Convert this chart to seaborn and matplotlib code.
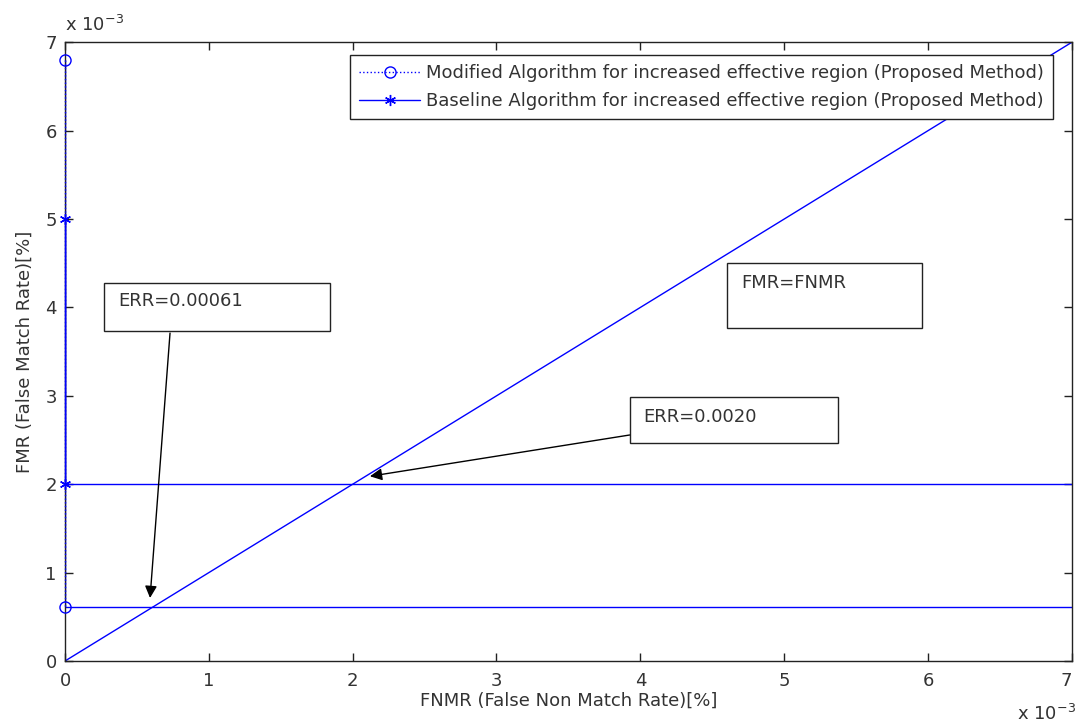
import matplotlib
matplotlib.use("Agg")
import matplotlib.pyplot as plt
import seaborn as sns
import pandas as pd
from matplotlib.ticker import FuncFormatter, MultipleLocator
from matplotlib.patches import Rectangle

# Data (actual units, axes shown in x10^-3)
mod_x = [0.0, 0.0, 0.007]
mod_y = [0.0068, 0.00061, 0.00061]
base_x = [0.0, 0.0, 0.007]
base_y = [0.005, 0.002, 0.002]
diag_x = [0.0, 0.007]
diag_y = [0.0, 0.007]
mod_label = 'Modified Algorithm for increased effective region (Proposed Method)'
base_label = 'Baseline Algorithm for increased effective region (Proposed Method)'

sns.set_theme(style="ticks")
plt.rcParams['font.family'] = ['DejaVu Sans']
txt = '#333333'
blue = '#0000ff'
fs = 13

fig = plt.figure(figsize=(10.75, 7.27), dpi=100)
ax = fig.add_axes([0.0605, 0.0908, 0.9365, 0.851])

df_mod = pd.DataFrame({"x": mod_x, "y": mod_y})
df_base = pd.DataFrame({"x": base_x, "y": base_y})
df_diag = pd.DataFrame({"x": diag_x, "y": diag_y})

sns.lineplot(data=df_diag, x="x", y="y", ax=ax, color=blue, lw=1.0,
             sort=False, estimator=None)
sns.lineplot(data=df_mod, x="x", y="y", ax=ax, color=blue, lw=1.0,
             sort=False, estimator=None)
sns.lineplot(data=df_base, x="x", y="y", ax=ax, color=blue, lw=1.0,
             sort=False, estimator=None)

# markers at the points on the y-axis
ax.plot(mod_x[:2], mod_y[:2], ls=':', color=blue, lw=1.0, marker='o', ms=8,
        mfc='none', mec=blue, label=mod_label, clip_on=False, zorder=5)
ax.plot(base_x[:2], base_y[:2], ls='-', color=blue, lw=1.0, marker=(6, 2, 0), ms=8,
        mfc=blue, mec=blue, label=base_label, clip_on=False, zorder=5)

ax.set_xlim(0, 0.007)
ax.set_ylim(0, 0.007)
fmt = FuncFormatter(lambda v, p: f"{v*1e3:g}")
ax.xaxis.set_major_formatter(fmt)
ax.yaxis.set_major_formatter(fmt)
ax.xaxis.set_major_locator(MultipleLocator(0.001))
ax.yaxis.set_major_locator(MultipleLocator(0.001))
ax.tick_params(direction='in', top=True, right=True, length=6, width=1,
               labelsize=fs, labelcolor=txt, colors='#222222')
ax.tick_params(axis='x', pad=8)
ax.tick_params(axis='y', pad=6)
for s in ax.spines.values():
    s.set_color('#222222')
    s.set_linewidth(1.0)

ax.set_xlabel('FNMR (False Non Match Rate)[%]', fontsize=fs, color=txt, labelpad=1)
ax.set_ylabel('FMR (False Match Rate)[%]', fontsize=fs, color=txt, labelpad=8)

fig.canvas.draw()
xl = ax.get_xticklabels()
xl[-1].set_horizontalalignment('right')
for lab in xl:
    if lab.get_text() == '7':
        lab.set_horizontalalignment('right')

ax.text(0.0, 1.012, r'x 10$^{\mathregular{-3}}$', transform=ax.transAxes, fontsize=fs,
        color=txt, ha='left', va='bottom')
ax.text(0.946, -0.102, r'x 10$^{\mathregular{-3}}$', transform=ax.transAxes, fontsize=fs,
        color=txt, ha='left', va='bottom')

leg = ax.legend(loc='upper right', bbox_to_anchor=(0.981, 0.979), borderaxespad=0,
                fontsize=fs, frameon=True, fancybox=False, edgecolor='#222222',
                handlelength=3.4, borderpad=0.5, labelspacing=0.55, handletextpad=0.3,
                framealpha=1)
leg.get_frame().set_linewidth(1.0)
for t in leg.get_texts():
    t.set_color(txt)

def box(x0, y0, x1, y1):
    ax.add_patch(Rectangle((x0, y0), x1 - x0, y1 - y0, fc='white', ec='#222222',
                           lw=1.0, zorder=6))

# ERR=0.00061 box
box(0.000271, 0.003733, 0.001842, 0.004276)
ax.text(0.000368, 0.00407, 'ERR=0.00061', fontsize=fs, color=txt, va='center',
        ha='left', zorder=7)
ax.annotate('', xy=(0.000591, 0.000713), xytext=(0.00073, 0.00371),
            arrowprops=dict(arrowstyle='-|>', color='black', lw=1.0,
                            shrinkA=0, shrinkB=0, mutation_scale=18), zorder=7)

# FMR=FNMR box
box(0.004600, 0.003767, 0.005956, 0.004502)
ax.text(0.004705, 0.004276, 'FMR=FNMR', fontsize=fs, color=txt, va='center',
        ha='left', zorder=7)

# ERR=0.0020 box
box(0.003926, 0.002466, 0.005372, 0.002986)
ax.text(0.004017, 0.00276, 'ERR=0.0020', fontsize=fs, color=txt, va='center',
        ha='left', zorder=7)
ax.annotate('', xy=(0.00212, 0.00209), xytext=(0.003926, 0.002557),
            arrowprops=dict(arrowstyle='-|>', color='black', lw=1.0,
                            shrinkA=0, shrinkB=0, mutation_scale=18), zorder=7)

fig.savefig('out.png', dpi=100)
